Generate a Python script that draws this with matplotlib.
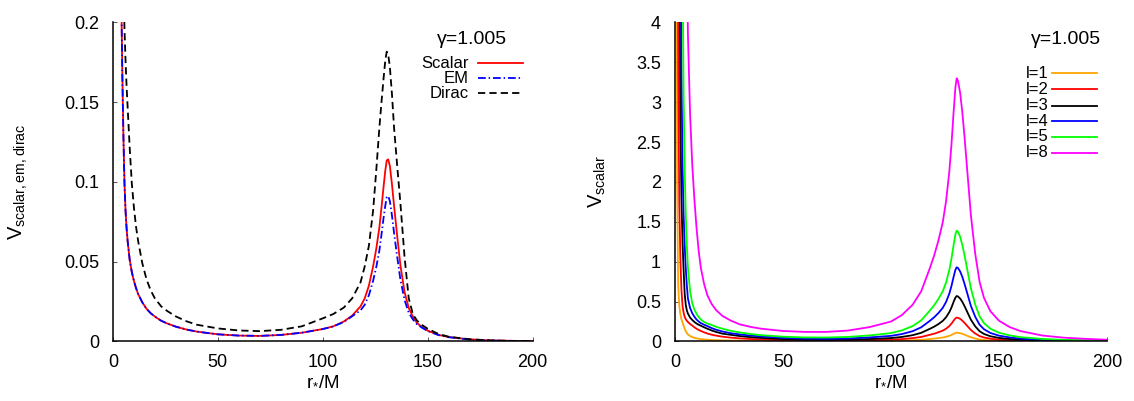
import matplotlib
matplotlib.use('Agg')
import matplotlib.pyplot as plt
from matplotlib.ticker import FuncFormatter

plt.rcParams['font.family'] = ['Liberation Sans', 'DejaVu Sans']
plt.rcParams['mathtext.fontset'] = 'custom'
plt.rcParams['mathtext.rm'] = 'Liberation Sans'
plt.rcParams['mathtext.default'] = 'regular'

# ---- left panel: scalar / EM / Dirac potentials (gamma = 1.005)
r_left = [3, 3.5, 4, 4.5, 5, 5.5, 6, 6.5, 7, 8, 9, 10, 11, 12, 14, 16, 18, 20, 23, 26,
          30, 35, 40, 50, 60, 70, 80, 90, 100, 105, 110, 114,
          118, 120, 122, 124, 125.5, 127, 128, 129, 129.8, 130.5, 131.2, 132, 133,
          134, 135.5, 137, 139, 141, 143, 145, 147.5, 150, 155, 160, 170, 180, 190, 200]
v_scalar = [0.4, 0.29, 0.213, 0.165, 0.128, 0.099, 0.082, 0.071, 0.063, 0.051, 0.0435,
            0.038, 0.0335, 0.0298, 0.0245, 0.0205, 0.0177, 0.0156, 0.013, 0.0112,
            0.0093, 0.0075, 0.0062, 0.0045, 0.0037, 0.0035, 0.0041, 0.0055, 0.0078,
            0.0095, 0.0125, 0.0162,
            0.022, 0.027, 0.035, 0.047, 0.058, 0.0715, 0.084, 0.097, 0.107, 0.1135,
            0.1142, 0.11, 0.0985, 0.085, 0.066, 0.048, 0.031, 0.021, 0.0155, 0.0115,
            0.0088, 0.0068, 0.0042, 0.0028, 0.0013, 0.0007, 0.0004, 0.0002]
v_em = [0.4, 0.29, 0.213, 0.165, 0.128, 0.099, 0.082, 0.071, 0.063, 0.051, 0.0435,
        0.038, 0.0335, 0.0298, 0.0245, 0.0205, 0.0177, 0.0156, 0.013, 0.0112,
        0.0093, 0.0075, 0.0062, 0.0045, 0.0037, 0.0035, 0.0041, 0.0055, 0.0078,
        0.0094, 0.0122, 0.0158,
        0.0195, 0.023, 0.029, 0.038, 0.0465, 0.057, 0.067, 0.0775, 0.085, 0.0905,
        0.0912, 0.088, 0.079, 0.068, 0.053, 0.039, 0.026, 0.018, 0.0138, 0.0107,
        0.0085, 0.0066, 0.0041, 0.0027, 0.0012, 0.0006, 0.0003, 0.0002]
v_dirac = [0.5, 0.4, 0.32, 0.265, 0.225, 0.196, 0.176, 0.16, 0.147, 0.121, 0.099,
           0.084, 0.072, 0.063, 0.049, 0.039, 0.032, 0.027, 0.022, 0.019,
           0.0157, 0.0127, 0.0105, 0.0082, 0.0069, 0.0065, 0.0073, 0.0095, 0.0145,
           0.0172, 0.0212, 0.027,
           0.037, 0.047, 0.06, 0.082, 0.107, 0.134, 0.15, 0.165, 0.176, 0.1817,
           0.18, 0.172, 0.155, 0.134, 0.11, 0.087, 0.053, 0.027, 0.017, 0.013,
           0.0102, 0.008, 0.0048, 0.003, 0.0014, 0.0007, 0.0004, 0.0002]

# ---- right panel: scalar potential for several l (gamma = 1.005)
r_right = [0.5, 1, 1.5, 2, 2.5, 3, 3.5, 4, 4.5, 5, 5.5, 6, 7, 8, 9, 10, 11, 12, 13.5,
           15, 17, 19, 22, 26, 30, 35, 40, 50, 60, 70, 80, 90,
           100, 105, 110, 114, 118, 120, 122, 124, 125.5, 127, 128, 129, 129.8, 130.4,
           131, 132, 133, 134, 135.5, 137, 139, 141, 143, 146, 150, 155, 160, 170,
           180, 190, 200]
v_l1 = [10, 2.0, 0.7, 0.45, 0.34, 0.28, 0.24, 0.2, 0.16, 0.13, 0.105, 0.088, 0.068,
        0.055, 0.046, 0.039, 0.034, 0.03, 0.026, 0.022, 0.019, 0.0165, 0.0138, 0.0113,
        0.0095, 0.0078, 0.0064, 0.0046, 0.0038, 0.0037, 0.0044, 0.0057,
        0.0083, 0.011, 0.0153, 0.021, 0.0307, 0.036, 0.0424, 0.05, 0.0586, 0.071,
        0.082, 0.096, 0.106, 0.11, 0.109, 0.104, 0.096, 0.086, 0.069, 0.053, 0.037,
        0.025, 0.018, 0.0127, 0.0087, 0.006, 0.0043, 0.0025, 0.0016, 0.0011, 0.0007]
v_l2 = [30, 8, 3.4, 1.75, 1.05, 0.65, 0.45, 0.36, 0.31, 0.28, 0.26, 0.245, 0.22, 0.2,
        0.178, 0.16, 0.145, 0.132, 0.115, 0.1, 0.085, 0.074, 0.06, 0.048, 0.039,
        0.031, 0.025, 0.016, 0.012, 0.011, 0.0125, 0.0165,
        0.0227, 0.03, 0.042, 0.057, 0.084, 0.098, 0.116, 0.137, 0.16, 0.194, 0.224,
        0.262, 0.289, 0.3, 0.297, 0.284, 0.262, 0.235, 0.189, 0.144, 0.1, 0.068,
        0.05, 0.035, 0.024, 0.0165, 0.012, 0.0068, 0.0044, 0.003, 0.002]
v_l3 = [80, 35, 14, 5.5, 2.8, 1.8, 1.25, 0.9, 0.6, 0.46, 0.39, 0.35, 0.3, 0.27, 0.245,
        0.225, 0.21, 0.197, 0.178, 0.16, 0.138, 0.12, 0.098, 0.083, 0.068, 0.055,
        0.045, 0.03, 0.023, 0.021, 0.023, 0.031,
        0.043, 0.057, 0.079, 0.109, 0.159, 0.186, 0.219, 0.259, 0.304, 0.368, 0.426,
        0.498, 0.549, 0.57, 0.565, 0.539, 0.498, 0.446, 0.359, 0.273, 0.19, 0.129,
        0.095, 0.066, 0.045, 0.031, 0.022, 0.013, 0.0083, 0.0057, 0.0038]
v_l4 = [100, 50, 25, 12, 6, 3.4, 2.2, 1.6, 1.2, 0.92, 0.7, 0.54, 0.42, 0.355, 0.31,
        0.275, 0.25, 0.23, 0.21, 0.193, 0.168, 0.148, 0.125, 0.103, 0.089, 0.075,
        0.063, 0.045, 0.036, 0.034, 0.038, 0.051,
        0.0705, 0.093, 0.129, 0.178, 0.259, 0.304, 0.358, 0.423, 0.496, 0.6, 0.696,
        0.812, 0.897, 0.93, 0.922, 0.879, 0.812, 0.727, 0.586, 0.445, 0.31, 0.211,
        0.155, 0.107, 0.073, 0.051, 0.036, 0.021, 0.0135, 0.0093, 0.0062]
v_l5 = [100, 60, 35, 22, 13, 7.5, 4.8, 3.1, 2.15, 1.6, 1.2, 0.93, 0.63, 0.48, 0.4,
        0.345, 0.305, 0.275, 0.245, 0.225, 0.207, 0.185, 0.16, 0.133, 0.113, 0.094,
        0.079, 0.06, 0.051, 0.05, 0.057, 0.076,
        0.105, 0.139, 0.193, 0.265, 0.388, 0.455, 0.535, 0.632, 0.741, 0.897, 1.04,
        1.213, 1.34, 1.39, 1.377, 1.314, 1.213, 1.087, 0.876, 0.666, 0.463, 0.316,
        0.232, 0.16, 0.11, 0.076, 0.054, 0.032, 0.02, 0.014, 0.0093]
v_l8 = [200, 100, 60, 40, 28, 20, 15, 11, 8.3, 6.3, 4.9, 3.85, 2.85, 2.22, 1.78, 1.42,
        1.13, 0.92, 0.72, 0.58, 0.47, 0.395, 0.32, 0.26, 0.215, 0.183, 0.16, 0.132,
        0.12, 0.12, 0.137, 0.18,
        0.25, 0.33, 0.46, 0.63, 0.92, 1.08, 1.27, 1.5, 1.76, 2.13, 2.47, 2.88, 3.18,
        3.3, 3.27, 3.12, 2.88, 2.58, 2.08, 1.58, 1.1, 0.75, 0.55, 0.38, 0.26, 0.18,
        0.13, 0.075, 0.048, 0.033, 0.022]

left_labels = ['Scalar', 'EM', 'Dirac']
right_labels = ['l=1', 'l=2', 'l=3', 'l=4', 'l=5', 'l=8']
gamma_text = '\u03b3=1.005'

fig = plt.figure(figsize=(11.34, 4.01), dpi=100)
ax1 = fig.add_axes([0.0996, 0.1484, 0.3700, 0.7956])
ax2 = fig.add_axes([0.5952, 0.1484, 0.3810, 0.7956])

lw = 1.3
dash = (4, 2.3)
dashdot = (4.3, 1.6, 0.8, 1.6)

left_series = [
    (v_scalar, '#ff0000', None),
    (v_em, '#0000ff', dashdot),
    (v_dirac, '#000000', dash),
]
right_series = [
    (v_l1, '#ffa500'),
    (v_l2, '#ff0000'),
    (v_l3, '#000000'),
    (v_l4, '#0000ff'),
    (v_l5, '#00ff00'),
    (v_l8, '#ff00ff'),
]

for vals, col, ds in left_series:
    ln, = ax1.plot(r_left, vals, color=col, lw=lw)
    if ds:
        ln.set_dashes(ds)

for vals, col in right_series:
    ax2.plot(r_right, vals, color=col, lw=lw)


def style_axes(ax, ymax, yticks):
    ax.set_xlim(0, 200)
    ax.set_ylim(0, ymax)
    ax.set_xticks([0, 50, 100, 150, 200])
    ax.set_yticks(yticks)
    ax.yaxis.set_major_formatter(FuncFormatter(lambda v, p: '%g' % v))
    for s in ['top', 'right']:
        ax.spines[s].set_visible(False)
    for s in ['left', 'bottom']:
        ax.spines[s].set_linewidth(1.1)
    ax.tick_params(direction='in', length=3, width=0.7, labelsize=13,
                   color='#555555')
    ax.tick_params(axis='y', pad=10)
    ax.tick_params(axis='x', pad=9)
    ax.set_xlabel('r$_{*}$/M', fontsize=13.5, labelpad=1)


style_axes(ax1, 0.2, [0, 0.05, 0.1, 0.15, 0.2])
style_axes(ax2, 4, [0, 0.5, 1, 1.5, 2, 2.5, 3, 3.5, 4])

ax1.set_ylabel('V$_{scalar,em,dirac}$', fontsize=14.5)
ax1.yaxis.set_label_coords(-0.198, 0.5)
ax2.set_ylabel('V$_{scalar}$', fontsize=14.5)
ax2.yaxis.set_label_coords(-0.155, 0.5)

# gamma labels and keys (gnuplot style: text right-aligned, sample on the right)
ax1.text(0.855, 0.948, gamma_text, transform=ax1.transAxes, ha='center',
         va='center', fontsize=14)
ax2.text(0.905, 0.948, gamma_text, transform=ax2.transAxes, ha='center',
         va='center', fontsize=14)

left_rows = [0.872, 0.825, 0.778]
for (vals, col, ds), lab, yy in zip(left_series, left_labels, left_rows):
    ax1.text(0.8486, yy, lab, transform=ax1.transAxes, ha='right', va='center',
             fontsize=12)
    ln, = ax1.plot([0.8703, 0.977], [yy, yy], transform=ax1.transAxes,
                   color=col, lw=lw)
    if ds:
        ln.set_dashes(ds)

right_rows = [0.8408, 0.7906, 0.7392, 0.6903, 0.6411, 0.591]
for (vals, col), lab, yy in zip(right_series, right_labels, right_rows):
    ax2.text(0.8657, yy, lab, transform=ax2.transAxes, ha='right', va='center',
             fontsize=12)
    ax2.plot([0.8727, 0.9762], [yy, yy], transform=ax2.transAxes, color=col,
             lw=lw, clip_on=False)

fig.savefig('out.png', dpi=100)
